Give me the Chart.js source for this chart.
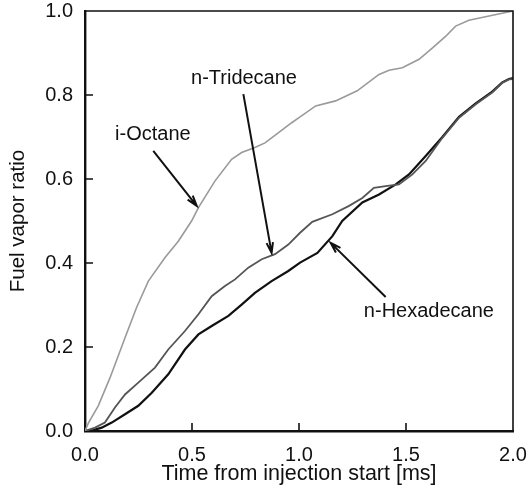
<!DOCTYPE html>
<html>
<head>
<meta charset="utf-8">
<script src="https://cdn.jsdelivr.net/npm/chart.js@4.4.1/dist/chart.umd.min.js"></script>
<style>
  html,body{margin:0;padding:0;background:#fff;}
  #wrap{width:530px;height:488px;}
</style>
</head>
<body>
<div id="wrap"><canvas id="chart"></canvas></div>
<script>

// ---- data (time in ms, fuel vapor ratio) ----
var timeOctane  = [0, 0.015, 0.062, 0.117, 0.187, 0.241, 0.296, 0.374, 0.436, 0.498, 0.53, 0.607, 0.685, 0.732, 0.794, 0.841, 0.903, 0.966, 1.0, 1.078, 1.171, 1.272, 1.374, 1.421, 1.483, 1.561, 1.624, 1.686, 1.732, 1.794, 1.888, 2.0];
var ratioOctane = [0, 0.018, 0.06, 0.127, 0.222, 0.294, 0.357, 0.413, 0.452, 0.5, 0.532, 0.595, 0.647, 0.663, 0.675, 0.686, 0.71, 0.734, 0.746, 0.774, 0.786, 0.81, 0.849, 0.859, 0.865, 0.885, 0.912, 0.94, 0.964, 0.978, 0.988, 1.0];

var timeTridecane  = [0, 0.047, 0.093, 0.14, 0.187, 0.249, 0.327, 0.389, 0.467, 0.53, 0.592, 0.654, 0.701, 0.763, 0.826, 0.888, 0.95, 1.005, 1.062, 1.156, 1.234, 1.296, 1.35, 1.405, 1.467, 1.53, 1.592, 1.67, 1.748, 1.826, 1.903, 1.95, 1.981, 2.0];
var ratioTridecane = [0, 0.008, 0.02, 0.056, 0.087, 0.115, 0.151, 0.194, 0.238, 0.278, 0.321, 0.345, 0.361, 0.389, 0.409, 0.421, 0.444, 0.472, 0.498, 0.516, 0.536, 0.555, 0.579, 0.583, 0.587, 0.611, 0.643, 0.698, 0.746, 0.778, 0.806, 0.829, 0.837, 0.838];

var timeHexadecane  = [0, 0.04, 0.078, 0.125, 0.187, 0.249, 0.312, 0.389, 0.467, 0.53, 0.592, 0.67, 0.732, 0.794, 0.872, 0.95, 1.005, 1.086, 1.156, 1.202, 1.296, 1.374, 1.452, 1.514, 1.592, 1.67, 1.748, 1.826, 1.903, 1.95, 1.981, 2.0];
var ratioHexadecane = [0, 0.002, 0.008, 0.02, 0.04, 0.06, 0.091, 0.135, 0.194, 0.23, 0.25, 0.274, 0.301, 0.329, 0.357, 0.381, 0.401, 0.424, 0.464, 0.5, 0.544, 0.563, 0.587, 0.611, 0.655, 0.70, 0.748, 0.78, 0.808, 0.83, 0.838, 0.84];

var seriesNames = ["i-Octane", "n-Tridecane", "n-Hexadecane"];

// annotation labels + arrows (data units)
var notes = [
  {text: "i-Octane",     at: [0.317, 0.707], from: [0.319, 0.667], to: [0.522, 0.536]},
  {text: "n-Tridecane",  at: [0.743, 0.840], from: [0.740, 0.802], to: [0.872, 0.424]},
  {text: "n-Hexadecane", at: [1.607, 0.285], from: [1.405, 0.319], to: [1.148, 0.448]},
];

var FONT = "'Liberation Sans', Arial, Helvetica, sans-serif";

function pts(xs, ys) {
  return xs.map(function(x, i){ return {x: x, y: ys[i]}; });
}

// frame (top/right), inner tick marks and the labelled arrows
var framePlugin = {
  id: "frame",
  afterDraw: function(chart) {
    var ctx = chart.ctx;
    var a = chart.chartArea;
    var sx = chart.scales.x, sy = chart.scales.y;
    ctx.save();
    ctx.strokeStyle = "#111";
    ctx.lineWidth = 1.6;
    ctx.beginPath();
    ctx.moveTo(a.left, a.top); ctx.lineTo(a.right, a.top); ctx.lineTo(a.right, a.bottom);
    ctx.stroke();

    ctx.lineWidth = 1.6;
    ctx.beginPath();
    sx.ticks.forEach(function(t){
      if (t.value <= sx.min || t.value >= sx.max) return;
      var px = sx.getPixelForValue(t.value);
      ctx.moveTo(px, a.bottom); ctx.lineTo(px, a.bottom - 8);
    });
    sy.ticks.forEach(function(t){
      if (t.value <= sy.min || t.value >= sy.max) return;
      var py = sy.getPixelForValue(t.value);
      ctx.moveTo(a.left, py); ctx.lineTo(a.left + 8, py);
    });
    ctx.stroke();

    ctx.font = "20px " + FONT;
    ctx.fillStyle = "#111";
    ctx.textAlign = "center";
    ctx.textBaseline = "middle";
    notes.forEach(function(n){
      ctx.fillText(n.text, sx.getPixelForValue(n.at[0]), sy.getPixelForValue(n.at[1]));
      var x1 = sx.getPixelForValue(n.from[0]), y1 = sy.getPixelForValue(n.from[1]);
      var x2 = sx.getPixelForValue(n.to[0]),   y2 = sy.getPixelForValue(n.to[1]);
      var ang = Math.atan2(y2 - y1, x2 - x1);
      ctx.lineWidth = 2;
      ctx.beginPath();
      ctx.moveTo(x1, y1); ctx.lineTo(x2, y2);
      ctx.moveTo(x2 - 11 * Math.cos(ang - 0.3), y2 - 11 * Math.sin(ang - 0.3));
      ctx.lineTo(x2, y2);
      ctx.lineTo(x2 - 11 * Math.cos(ang + 0.3), y2 - 11 * Math.sin(ang + 0.3));
      ctx.stroke();
    });
    ctx.restore();
  }
};

var chart = new Chart(document.getElementById("chart"), {
  type: "line",
  data: {
    datasets: [
      {label: seriesNames[0], data: pts(timeOctane, ratioOctane), borderColor: "#9a9a9a", borderWidth: 1.6},
      {label: seriesNames[1], data: pts(timeTridecane, ratioTridecane), borderColor: "#555", borderWidth: 1.8},
      {label: seriesNames[2], data: pts(timeHexadecane, ratioHexadecane), borderColor: "#111", borderWidth: 2.2},
    ]
  },
  options: {
    responsive: true,
    maintainAspectRatio: false,
    animation: false,
    devicePixelRatio: 1,
    elements: {point: {radius: 0}, line: {tension: 0}},
    layout: {padding: {top: 11, right: 17, bottom: 0, left: 0}},
    plugins: {legend: {display: false}, tooltip: {enabled: false}},
    scales: {
      x: {
        type: "linear", min: 0, max: 2,
        ticks: {stepSize: 0.5, padding: 12, color: "#111", font: {family: FONT, size: 20},
                callback: function(v){ return v.toFixed(1); }},
        grid: {display: false, drawTicks: false},
        border: {display: true, color: "#111", width: 2.4},
        title: {display: true, text: "Time from injection start [ms]", color: "#111",
                font: {family: FONT, size: 21.5}, padding: {top: 0, bottom: 1}},
        afterFit: function(s){ s.height = 57; s.paddingLeft = 0; s.paddingRight = 0; }
      },
      y: {
        min: 0, max: 1,
        ticks: {stepSize: 0.2, padding: 12, color: "#111", font: {family: FONT, size: 20},
                callback: function(v){ return v.toFixed(1); }},
        grid: {display: false, drawTicks: false},
        border: {display: true, color: "#111", width: 2.4},
        title: {display: true, text: "Fuel vapor ratio", color: "#111",
                font: {family: FONT, size: 20.5}, padding: {top: 6, bottom: 0}},
        afterFit: function(s){ s.width = 85; s.paddingTop = 0; s.paddingBottom = 0; }
      }
    }
  },
  plugins: [framePlugin]
});
</script>
</body>
</html>
